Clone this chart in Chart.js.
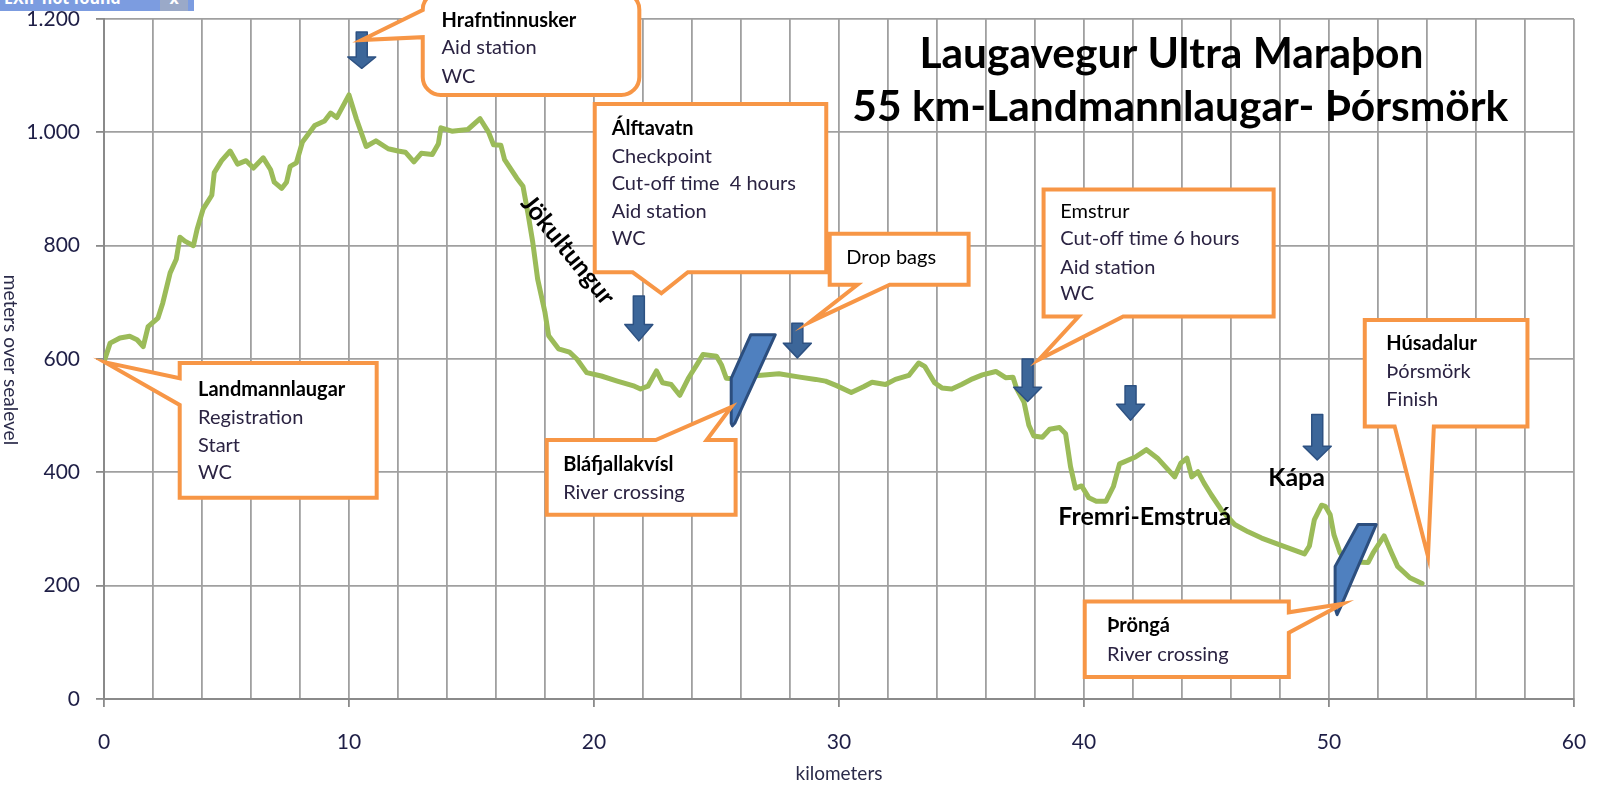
<!DOCTYPE html>
<html>
<head>
<meta charset="utf-8">
<script src="https://cdn.jsdelivr.net/npm/chart.js@4.4.1/dist/chart.umd.min.js"></script>
<style>
    html, body { margin: 0; padding: 0; background: #fff; }
    #marco { position: relative; width: 1600px; height: 793px; overflow: hidden; }
    #exif { position: absolute; left: 0; top: -13px; width: 194px; height: 24px; background: #7c9ce0;
            color: #fff; font: bold 16px "Open Sans", sans-serif; line-height: 22px; padding-left: 4px; box-sizing: border-box; }
    #exif span { position: absolute; left: 160px; top: 0; width: 28px; height: 24px; background: #9aa9c8; text-align: center; }
</style>
</head>
<body>
<div id="marco">
    <canvas id="grafico" width="1600" height="793"></canvas>
    <div id="exif">EXIF not found<span>x</span></div>
</div>
<script>
// perfil de la carrera (km, metros)
const kilometros = [
    0.0, 0.25, 0.65, 1.05, 1.35, 1.6, 1.8, 2.2, 2.4, 2.7, 2.95, 3.1, 3.3, 3.65, 3.8, 4.05, 4.4, 4.5, 4.8, 5.15,
    5.45, 5.8, 6.1, 6.5, 6.8, 6.95, 7.25, 7.45, 7.6, 7.85, 8.1, 8.6, 9.0, 9.25, 9.5, 10.0, 10.3, 10.7, 11.1, 11.6,
    12.0, 12.3, 12.65, 12.95, 13.4, 13.65, 13.75, 14.2, 14.85, 15.35, 15.7, 15.9, 16.2, 16.35, 16.85, 17.1, 17.3, 17.5, 17.7, 18.0,
    18.15, 18.55, 19.0, 19.3, 19.7, 20.3, 20.95, 21.65, 21.9, 22.2, 22.55, 22.8, 23.15, 23.5, 23.85, 24.2, 24.45, 25.0, 25.2, 25.4,
    25.65, 26.0, 26.7, 27.55, 28.4, 29.05, 29.45, 29.9, 30.5, 31.0, 31.35, 31.9, 32.3, 32.85, 33.25, 33.5, 33.9, 34.2, 34.6, 35.0,
    35.45, 35.85, 36.4, 36.8, 37.1, 37.25, 37.55, 37.75, 37.95, 38.3, 38.6, 39.0, 39.25, 39.45, 39.65, 39.9, 40.2, 40.5, 40.9, 41.2,
    41.45, 42.1, 42.55, 43.0, 43.7, 43.95, 44.2, 44.4, 44.65, 44.9, 45.2, 45.6, 46.15, 46.7, 47.25, 47.8, 48.3, 49.0, 49.2, 49.4,
    49.7, 49.85, 50.05, 50.2, 50.45, 50.8, 51.6, 51.8, 52.25, 52.55, 52.8, 53.3, 53.8
];
const altura = [
    595, 628, 637, 640, 634, 622, 657, 672, 699, 752, 776, 815, 808, 800, 829, 865, 889, 929, 950, 967,
    944, 950, 937, 955, 934, 912, 901, 912, 940, 946, 983, 1012, 1020, 1034, 1026, 1066, 1024, 975, 985, 971,
    967, 965, 948, 963, 961, 980, 1008, 1002, 1005, 1024, 1000, 978, 977, 952, 919, 905, 858, 806, 741, 682,
    641, 618, 612, 600, 576, 570, 561, 552, 547, 552, 579, 558, 555, 536, 566, 590, 608, 605, 590, 566,
    565, 567, 571, 574, 568, 564, 561, 553, 541, 551, 559, 555, 564, 571, 593, 587, 558, 549, 547, 555,
    565, 572, 578, 567, 568, 548, 524, 483, 464, 462, 476, 479, 468, 410, 372, 376, 355, 349, 349, 375,
    415, 427, 440, 425, 392, 416, 425, 392, 401, 381, 360, 334, 308, 295, 284, 275, 267, 256, 270, 316,
    342, 340, 325, 290, 258, 242, 241, 258, 288, 258, 234, 214, 204
];

const ticksKm = [0, 10, 20, 30, 40, 50, 60];
const ticksAltura = [0, 200, 400, 600, 800, 1000, 1200];

const titulo = ["Laugavegur Ultra Maraþon", "55 km-Landmannlaugar- Þórsmörk"];

// cuadros de texto (posiciones en km / metros)
const cuadros = [
    { x0: 13.01, x1: 21.85, y0: 1248, y1: 1066, r: 18, cola: { lado: "izq", a: 1216, b: 1168, punta: [10.52, 1163] },
      tx: 13.78, lineas: [["Hrafntinnusker", 1198], ["Aid station", 1149], ["WC", 1098]] },
    { x0: 20.03, x1: 29.48, y0: 1050, y1: 753, r: 0, cola: { lado: "abajo", a: 21.58, b: 23.83, punta: [22.75, 716] },
      tx: 20.72, lineas: [["Álftavatn", 1006], ["Checkpoint", 958], ["Cut-off time  4 hours", 909], ["Aid station", 861], ["WC", 812]] },
    { x0: 3.09, x1: 11.13, y0: 593, y1: 355, r: 0, cola: { lado: "izq", a: 566, b: 519, punta: [0.05, 594] },
      tx: 3.84, lineas: [["Landmannlaugar", 546], ["Registration", 497], ["Start", 447], ["WC", 399]] },
    { x0: 18.07, x1: 25.78, y0: 457, y1: 325, r: 0, cola: { lado: "arriba", a: 22.52, b: 24.6, punta: [25.6, 515] },
      tx: 18.74, lineas: [["Bláfjallakvísl", 413], ["River crossing", 365]] },
    { x0: 29.62, x1: 35.29, y0: 821, y1: 731, r: 0, cola: { lado: "abajo", a: 30.75, b: 32.07, punta: [28.8, 665] },
      tx: 30.3, lineas: [["Drop bags", 779, "normal"]] },
    { x0: 38.35, x1: 47.74, y0: 899, y1: 675, r: 0, cola: { lado: "abajo", a: 39.78, b: 41.6, punta: [38.16, 599] },
      tx: 39.03, lineas: [["Emstrur", 860, "normal"], ["Cut-off time 6 hours", 812], ["Aid station", 762], ["WC", 715]] },
    { x0: 40.03, x1: 48.36, y0: 172, y1: 39, r: 0, cola: { lado: "der", a: 153, b: 117, punta: [50.56, 168] },
      tx: 40.94, lineas: [["Þröngá", 130], ["River crossing", 79]] },
    { x0: 51.46, x1: 58.1, y0: 669, y1: 481, r: 0, cola: { lado: "abajo", a: 52.68, b: 54.28, punta: [54.04, 252] },
      tx: 52.34, lineas: [["Húsadalur", 628], ["Þórsmörk", 578], ["Finish", 528]] }
];

// flechas: km, arriba, inicio de la punta, punta
const flechas = [
    [10.52, 1177, 1133, 1113],
    [21.83, 711, 661, 632],
    [28.3, 663, 628, 602],
    [37.7, 600, 550, 525],
    [41.9, 553, 520, 492],
    [49.52, 502, 446, 422]
];

// cruces de río
const cruces = [
    [[26.4, 643], [27.4, 643], [25.75, 487], [25.65, 482], [25.6, 487], [25.6, 566]],
    [[51.19, 308], [51.93, 308], [50.45, 160], [50.33, 149], [50.25, 160], [50.25, 234]]
];

const etiquetas = [
    ["Jökultungur", 18.93, 792, 51],
    ["Fremri-Emstruá", 42.48, 322, 0],
    ["Kápa", 48.68, 390, 0]
];

const naranja = "#f79646";
const fuente = "Lato, 'Open Sans', sans-serif";

function formatoMiles(v) {
    if (v >= 1000) return Math.floor(v / 1000) + "." + String(v % 1000).padStart(3, "0");
    return String(v);
}

function dibujarCuadro(ctx, px, py, c) {
    const x0 = px(c.x0), x1 = px(c.x1), y0 = py(c.y0), y1 = py(c.y1), r = c.r;
    const t = c.cola;
    const tip = [px(t.punta[0]), py(t.punta[1])];
    let a, b;
    if (t.lado === "arriba" || t.lado === "abajo") { a = Math.min(px(t.a), px(t.b)); b = Math.max(px(t.a), px(t.b)); }
    else { a = Math.min(py(t.a), py(t.b)); b = Math.max(py(t.a), py(t.b)); }

    ctx.beginPath();
    ctx.moveTo(x0 + r, y0);
    if (t.lado === "arriba") { ctx.lineTo(a, y0); ctx.lineTo(tip[0], tip[1]); ctx.lineTo(b, y0); }
    ctx.arcTo(x1, y0, x1, y1, r);
    if (t.lado === "der") { ctx.lineTo(x1, a); ctx.lineTo(tip[0], tip[1]); ctx.lineTo(x1, b); }
    ctx.arcTo(x1, y1, x0, y1, r);
    if (t.lado === "abajo") { ctx.lineTo(b, y1); ctx.lineTo(tip[0], tip[1]); ctx.lineTo(a, y1); }
    ctx.arcTo(x0, y1, x0, y0, r);
    if (t.lado === "izq") { ctx.lineTo(x0, b); ctx.lineTo(tip[0], tip[1]); ctx.lineTo(x0, a); }
    ctx.arcTo(x0, y0, x1, y0, r);
    ctx.closePath();
    ctx.fillStyle = "#fff";
    ctx.fill();
    ctx.lineWidth = 4;
    ctx.lineJoin = "miter";
    ctx.strokeStyle = naranja;
    ctx.stroke();

    ctx.textAlign = "left";
    ctx.textBaseline = "middle";
    c.lineas.forEach((l, i) => {
        const negrita = i === 0 && l[2] !== "normal";
        ctx.font = (negrita ? "bold " : "") + "20px " + fuente;
        ctx.fillStyle = i === 0 ? "#000" : "#2b2342";
        ctx.fillText(l[0], px(c.tx), py(l[1]));
    });
}

function dibujarFlecha(ctx, px, py, f) {
    const xc = px(f[0]), ya = py(f[1]), yh = py(f[2]), yp = py(f[3]);
    ctx.beginPath();
    ctx.moveTo(xc - 5.5, ya);
    ctx.lineTo(xc + 5.5, ya);
    ctx.lineTo(xc + 5.5, yh);
    ctx.lineTo(xc + 14, yh);
    ctx.lineTo(xc, yp);
    ctx.lineTo(xc - 14, yh);
    ctx.lineTo(xc - 5.5, yh);
    ctx.closePath();
    ctx.fillStyle = "#3c6699";
    ctx.fill();
    ctx.lineWidth = 1.5;
    ctx.strokeStyle = "#2d5182";
    ctx.stroke();
}

const anotaciones = {
    id: "anotaciones",
    afterDatasetsDraw(chart) {
        const ctx = chart.ctx;
        const px = v => chart.scales.x.getPixelForValue(v);
        const py = v => chart.scales.y.getPixelForValue(v);
        const area = chart.chartArea;
        ctx.save();

        cruces.forEach(p => {
            ctx.beginPath();
            p.forEach((q, i) => i ? ctx.lineTo(px(q[0]), py(q[1])) : ctx.moveTo(px(q[0]), py(q[1])));
            ctx.closePath();
            ctx.fillStyle = "#4f80bf";
            ctx.fill();
            ctx.lineWidth = 3;
            ctx.lineJoin = "round";
            ctx.strokeStyle = "#2c4e7e";
            ctx.stroke();
        });

        flechas.forEach(f => dibujarFlecha(ctx, px, py, f));
        cuadros.forEach(c => dibujarCuadro(ctx, px, py, c));

        ctx.fillStyle = "#000";
        ctx.textBaseline = "middle";
        ctx.textAlign = "center";
        etiquetas.forEach(e => {
            ctx.save();
            ctx.translate(px(e[1]), py(e[2]));
            ctx.rotate(e[3] * Math.PI / 180);
            ctx.font = "bold 25px " + fuente;
            ctx.fillText(e[0], 0, 0);
            ctx.restore();
        });

        // título
        ctx.font = "bold 42.5px " + fuente;
        ctx.fillText(titulo[0], px(43.57), py(1137));
        ctx.fillText(titulo[1], px(43.93), py(1044));

        // títulos de ejes
        ctx.font = "19px " + fuente;
        ctx.fillStyle = "#2b2b4a";
        ctx.fillText("kilometers", (area.left + area.right) / 2, 774);
        ctx.save();
        ctx.font = "19px " + fuente;
        ctx.translate(10, 360);
        ctx.rotate(Math.PI / 2);
        ctx.fillText("meters over sealevel", 0, 0);
        ctx.restore();

        ctx.restore();
    }
};

const puntos = kilometros.map((k, i) => ({ x: k, y: altura[i] }));

new Chart(document.getElementById("grafico"), {
    type: "line",
    data: {
        datasets: [{
            data: puntos,
            borderColor: "#9bbb59",
            borderWidth: 5,
            pointRadius: 0,
            tension: 0,
            borderJoinStyle: "round",
            borderCapStyle: "round"
        }]
    },
    options: {
        responsive: false,
        animation: false,
        layout: { padding: { top: 19, right: 26, left: 0, bottom: 0 } },
        plugins: { legend: { display: false }, tooltip: { enabled: false } },
        scales: {
            x: {
                type: "linear", min: 0, max: 60,
                afterFit: s => { s.height = 94; s.paddingLeft = 0; s.paddingRight = 0; },
                ticks: {
                    stepSize: 2, autoSkip: false, maxRotation: 0, padding: 23,
                    color: "#1e1e46", font: { family: fuente, size: 21 },
                    callback: v => ticksKm.includes(v) ? String(v) : ""
                },
                grid: {
                    color: "#a0a0a0", lineWidth: 1.8, tickLength: 8,
                    tickColor: c => (c.tick && ticksKm.includes(c.tick.value)) ? "#8a8a8a" : "rgba(0,0,0,0)"
                },
                border: { color: "#8a8a8a", width: 2 }
            },
            y: {
                min: 0, max: 1200,
                afterFit: s => { s.width = 104; s.paddingTop = 0; s.paddingBottom = 0; },
                afterBuildTicks: s => { s.ticks = ticksAltura.map(v => ({ value: v })); },
                ticks: {
                    padding: 16, color: "#1e1e46", font: { family: fuente, size: 21 },
                    callback: v => formatoMiles(v)
                },
                grid: { color: "#a0a0a0", lineWidth: 1.8, tickLength: 8, tickColor: "#8a8a8a" },
                border: { color: "#8a8a8a", width: 2 }
            }
        }
    },
    plugins: [anotaciones]
});
</script>
</body>
</html>
